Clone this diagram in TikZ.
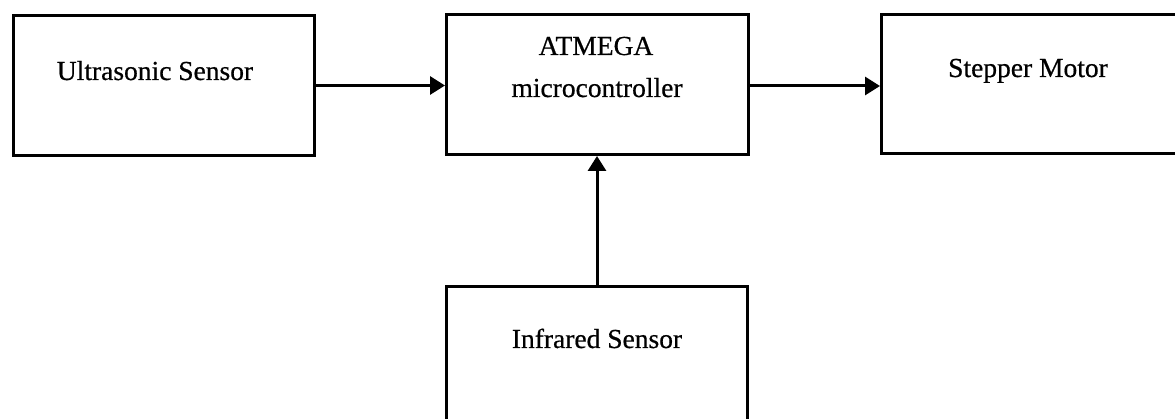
\documentclass[tikz,border=0pt]{standalone}
\usepackage{fontspec}
\setmainfont{Liberation Serif}
\newfontfamily\scanfont[FakeBold=0.6]{Liberation Serif}
\usetikzlibrary{arrows.meta}
\tikzset{
  blockbox/.style={draw=black, line width=3pt, rectangle, inner sep=0pt, anchor=north west},
  lbl/.style={anchor=base, inner sep=0pt, font=\scanfont\fontsize{27.5}{33}\selectfont},
  arr/.style={line width=3pt, -{Triangle[length=15pt,width=18pt]}}
}
\begin{document}
\begin{tikzpicture}[x=1pt,y=-1pt]
\useasboundingbox (0,0) rectangle (1175,419);
\clip (0,0) rectangle (1175,419);
\node[blockbox, minimum width=301pt, minimum height=140pt] (us) at (12,14) {};
\node[blockbox, minimum width=302pt, minimum height=140pt] (atm) at (445,13) {};
\node[blockbox, minimum width=310pt, minimum height=139pt] (sm) at (880,13) {};
\node[blockbox, minimum width=301pt, minimum height=145pt] (ir) at (445,285) {};
\node[lbl] (uslbl) at (155,80) {Ultrasonic Sensor};
\node[lbl] (atmlbla) at (596,55) {ATMEGA};
\node[lbl] (atmlblb) at (597,97) {microcontroller};
\node[lbl] (smlbl) at (1028,77) {Stepper Motor};
\node[lbl] (irlbl) at (597,348) {Infrared Sensor};
\draw[arr] (us.east) -- (us.east -| atm.west);
\draw[arr] ([yshift=-1.5pt]atm.east) -- ([yshift=-1.5pt]atm.east -| sm.west);
\draw[arr] (ir.north) -- (ir.north |- atm.south);
\end{tikzpicture}
\end{document}
